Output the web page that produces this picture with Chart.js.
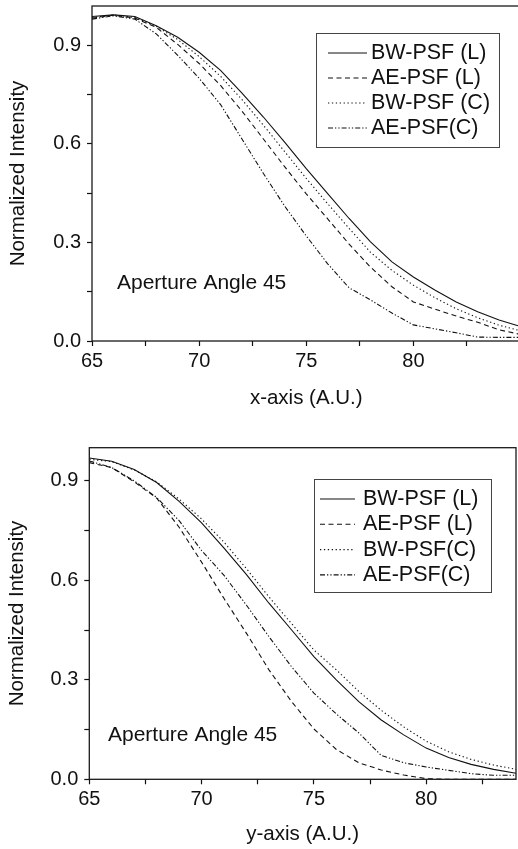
<!DOCTYPE html>
<html>
<head>
<meta charset="utf-8">
<script src="https://cdn.jsdelivr.net/npm/chart.js@4.4.0/dist/chart.umd.min.js"></script>
<style>
  html, body { margin: 0; padding: 0; background: #fff; overflow: hidden; }
  #topPanel { position: absolute; left: 0; top: 0; width: 540px; height: 420px; }
  #bottomPanel { position: absolute; left: 0; top: 420px; width: 518px; height: 429px; }
</style>
</head>
<body>
<div id="topPanel"><canvas id="chartX" width="540" height="420"></canvas></div>
<div id="bottomPanel"><canvas id="chartY" width="518" height="429"></canvas></div>
<script>
// x-axis profile (top panel)
const xPositions = [65, 66, 67, 68, 69, 70, 71, 72, 73, 74, 75, 76, 77, 78, 79, 80, 81, 82, 83, 84, 85];
const xBwLinear  = [0.988, 0.993, 0.988, 0.960, 0.925, 0.879, 0.824, 0.755, 0.682, 0.605, 0.525, 0.449, 0.373, 0.302, 0.241, 0.195, 0.155, 0.119, 0.089, 0.064, 0.044];
const xAeLinear  = [0.983, 0.992, 0.983, 0.955, 0.903, 0.845, 0.778, 0.700, 0.615, 0.530, 0.448, 0.372, 0.295, 0.225, 0.165, 0.119, 0.097, 0.076, 0.057, 0.034, 0.020];
const xBwCirc    = [0.985, 0.993, 0.985, 0.958, 0.918, 0.866, 0.806, 0.735, 0.657, 0.576, 0.495, 0.418, 0.343, 0.270, 0.215, 0.170, 0.132, 0.098, 0.071, 0.048, 0.031];
const xAeCirc    = [0.980, 0.990, 0.980, 0.935, 0.870, 0.800, 0.720, 0.615, 0.510, 0.410, 0.320, 0.235, 0.162, 0.125, 0.085, 0.049, 0.037, 0.025, 0.012, 0.011, 0.011];
const xLabels = ['BW-PSF (L)', 'AE-PSF (L)', 'BW-PSF (C)', 'AE-PSF(C)'];

// y-axis profile (bottom panel)
const yPositions = [65, 66, 67, 68, 69, 70, 71, 72, 73, 74, 75, 76, 77, 78, 79, 80, 81, 82, 83, 84];
const yBwLinear  = [0.969, 0.959, 0.934, 0.895, 0.838, 0.773, 0.697, 0.617, 0.531, 0.451, 0.370, 0.300, 0.234, 0.179, 0.134, 0.094, 0.066, 0.045, 0.030, 0.018];
const yAeLinear  = [0.955, 0.940, 0.897, 0.848, 0.760, 0.655, 0.545, 0.440, 0.330, 0.235, 0.152, 0.090, 0.050, 0.028, 0.013, 0.002, 0.000, 0.000, 0.000, 0.000];
const yBwCirc    = [0.965, 0.958, 0.933, 0.897, 0.845, 0.785, 0.715, 0.635, 0.550, 0.470, 0.390, 0.330, 0.265, 0.208, 0.158, 0.115, 0.083, 0.060, 0.043, 0.030];
const yAeCirc    = [0.960, 0.940, 0.900, 0.850, 0.780, 0.690, 0.615, 0.525, 0.430, 0.340, 0.260, 0.197, 0.140, 0.072, 0.050, 0.037, 0.027, 0.017, 0.012, 0.012];
const yLabels = ['BW-PSF (L)', 'AE-PSF (L)', 'BW-PSF(C)', 'AE-PSF(C)'];

const noteText = 'Aperture Angle 45';
const yTitle = 'Normalized Intensity';

const FONT = '"Liberation Sans", Arial, Helvetica, sans-serif';
const INK = '#111';
const dashes = [[], [5, 3.5], [1.3, 2.6], [5, 2, 1.3, 2, 1.3, 2]];

function toPoints(xs, ys) {
    return xs.map((x, i) => ({ x: x, y: ys[i] }));
}

function makeDatasets(xs, series, labels) {
    return series.map((ys, i) => ({
        label: labels[i],
        data: toPoints(xs, ys),
        borderColor: INK,
        borderWidth: 1.1,
        borderDash: dashes[i],
        pointRadius: 0,
        tension: 0,
        fill: false
    }));
}

// box around the plot area
const framePlugin = {
    id: 'frame',
    afterDraw(chart) {
        const { ctx, chartArea: a } = chart;
        ctx.save();
        ctx.strokeStyle = '#1a1a1a';
        ctx.lineWidth = 1.3;
        ctx.strokeRect(a.left, a.top, a.right - a.left, a.bottom - a.top);
        ctx.restore();
    }
};

// boxed legend with line samples, and the "Aperture Angle" note
const boxLegendPlugin = {
    id: 'boxLegend',
    afterDatasetsDraw(chart, args, opts) {
        const ctx = chart.ctx;
        ctx.save();
        ctx.fillStyle = '#fff';
        ctx.fillRect(opts.x, opts.y, opts.w, opts.h);
        ctx.strokeStyle = '#444';
        ctx.lineWidth = 1;
        ctx.strokeRect(opts.x + 0.5, opts.y + 0.5, opts.w, opts.h);

        ctx.font = opts.fontSize + 'px ' + FONT;
        ctx.textBaseline = 'middle';
        chart.data.datasets.forEach((ds, i) => {
            const rowY = opts.y + opts.firstRow + i * opts.rowGap;
            ctx.strokeStyle = ds.borderColor;
            ctx.lineWidth = ds.borderWidth;
            ctx.setLineDash(ds.borderDash);
            ctx.beginPath();
            ctx.moveTo(opts.lineX, rowY);
            ctx.lineTo(opts.lineX + opts.lineLen, rowY);
            ctx.stroke();
            ctx.setLineDash([]);
            ctx.fillStyle = INK;
            ctx.fillText(ds.label, opts.lineX + opts.lineLen + opts.gap, rowY);
        });

        ctx.font = opts.noteSize + 'px ' + FONT;
        ctx.fillText(noteText, opts.noteX, opts.noteY);
        ctx.restore();
    }
};

function makeChart(id, xs, series, labels, cfg) {
    return new Chart(document.getElementById(id), {
        type: 'line',
        data: { datasets: makeDatasets(xs, series, labels) },
        plugins: [boxLegendPlugin, framePlugin],
        options: {
            responsive: false,
            animation: false,
            devicePixelRatio: 1,
            layout: { padding: cfg.padding },
            plugins: {
                legend: { display: false },
                tooltip: { enabled: false },
                boxLegend: cfg.legend
            },
            scales: {
                x: {
                    type: 'linear',
                    min: 65,
                    max: cfg.xMax,
                    afterFit: (scale) => {
                        scale.height = cfg.xAxisHeight;
                        scale.paddingLeft = 0;
                        scale.paddingRight = 0;
                    },
                    border: { display: false },
                    grid: { display: true, drawOnChartArea: false, drawTicks: true, tickLength: 5, tickColor: INK, tickWidth: 1.2 },
                    ticks: {
                        stepSize: 2.5,
                        includeBounds: false,
                        autoSkip: false,
                        maxRotation: 0,
                        padding: 3,
                        color: INK,
                        font: { family: FONT, size: 20 },
                        callback: (v) => (Math.round(v * 2) % 10 === 0 && v <= cfg.lastXLabel ? String(v) : '')
                    },
                    title: {
                        display: true,
                        text: cfg.xTitle,
                        color: INK,
                        font: { family: FONT, size: 20.5 },
                        padding: { top: 0, bottom: cfg.xTitlePad }
                    }
                },
                y: {
                    min: 0,
                    max: cfg.yMax,
                    afterFit: (scale) => {
                        scale.width = cfg.yAxisWidth;
                        scale.paddingTop = 0;
                        scale.paddingBottom = 0;
                    },
                    border: { display: false },
                    grid: { display: true, drawOnChartArea: false, drawTicks: true, tickLength: 5, tickColor: INK, tickWidth: 1.2 },
                    ticks: {
                        stepSize: 0.15,
                        includeBounds: false,
                        autoSkip: false,
                        padding: 6,
                        color: INK,
                        font: { family: FONT, size: 20 },
                        callback: (v) => (Math.round(v / 0.15) % 2 === 0 ? v.toFixed(1) : '')
                    },
                    title: {
                        display: true,
                        text: yTitle,
                        color: INK,
                        font: { family: FONT, size: 20.5 },
                        padding: { top: cfg.yTitlePad, bottom: 0 }
                    }
                }
            }
        }
    });
}

makeChart('chartX', xPositions, [xBwLinear, xAeLinear, xBwCirc, xAeCirc], xLabels, {
    xMax: 85,
    lastXLabel: 80,
    yMax: 1.02,
    padding: { left: 0, top: 6, right: 19.5, bottom: 0 },
    xAxisHeight: 79,
    yAxisWidth: 92,
    xTitle: 'x-axis (A.U.)',
    xTitlePad: 9,
    yTitlePad: 6,
    legend: { x: 316, y: 33, w: 183, h: 114, firstRow: 20, rowGap: 25, lineX: 328, lineLen: 39, gap: 4, fontSize: 21.5,
              noteX: 117, noteY: 283, noteSize: 21 }
});

makeChart('chartY', yPositions, [yBwLinear, yAeLinear, yBwCirc, yAeCirc], yLabels, {
    xMax: 84,
    lastXLabel: 80,
    yMax: 1.0,
    padding: { left: 0, top: 27.7, right: 2, bottom: 0 },
    xAxisHeight: 69.7,
    yAxisWidth: 89.3,
    xTitle: 'y-axis (A.U.)',
    xTitlePad: 2,
    yTitlePad: 5,
    legend: { x: 314, y: 59, w: 177, h: 113, firstRow: 20, rowGap: 25.3, lineX: 320, lineLen: 35, gap: 8, fontSize: 21.5,
              noteX: 108, noteY: 315, noteSize: 21 }
});
</script>
</body>
</html>
